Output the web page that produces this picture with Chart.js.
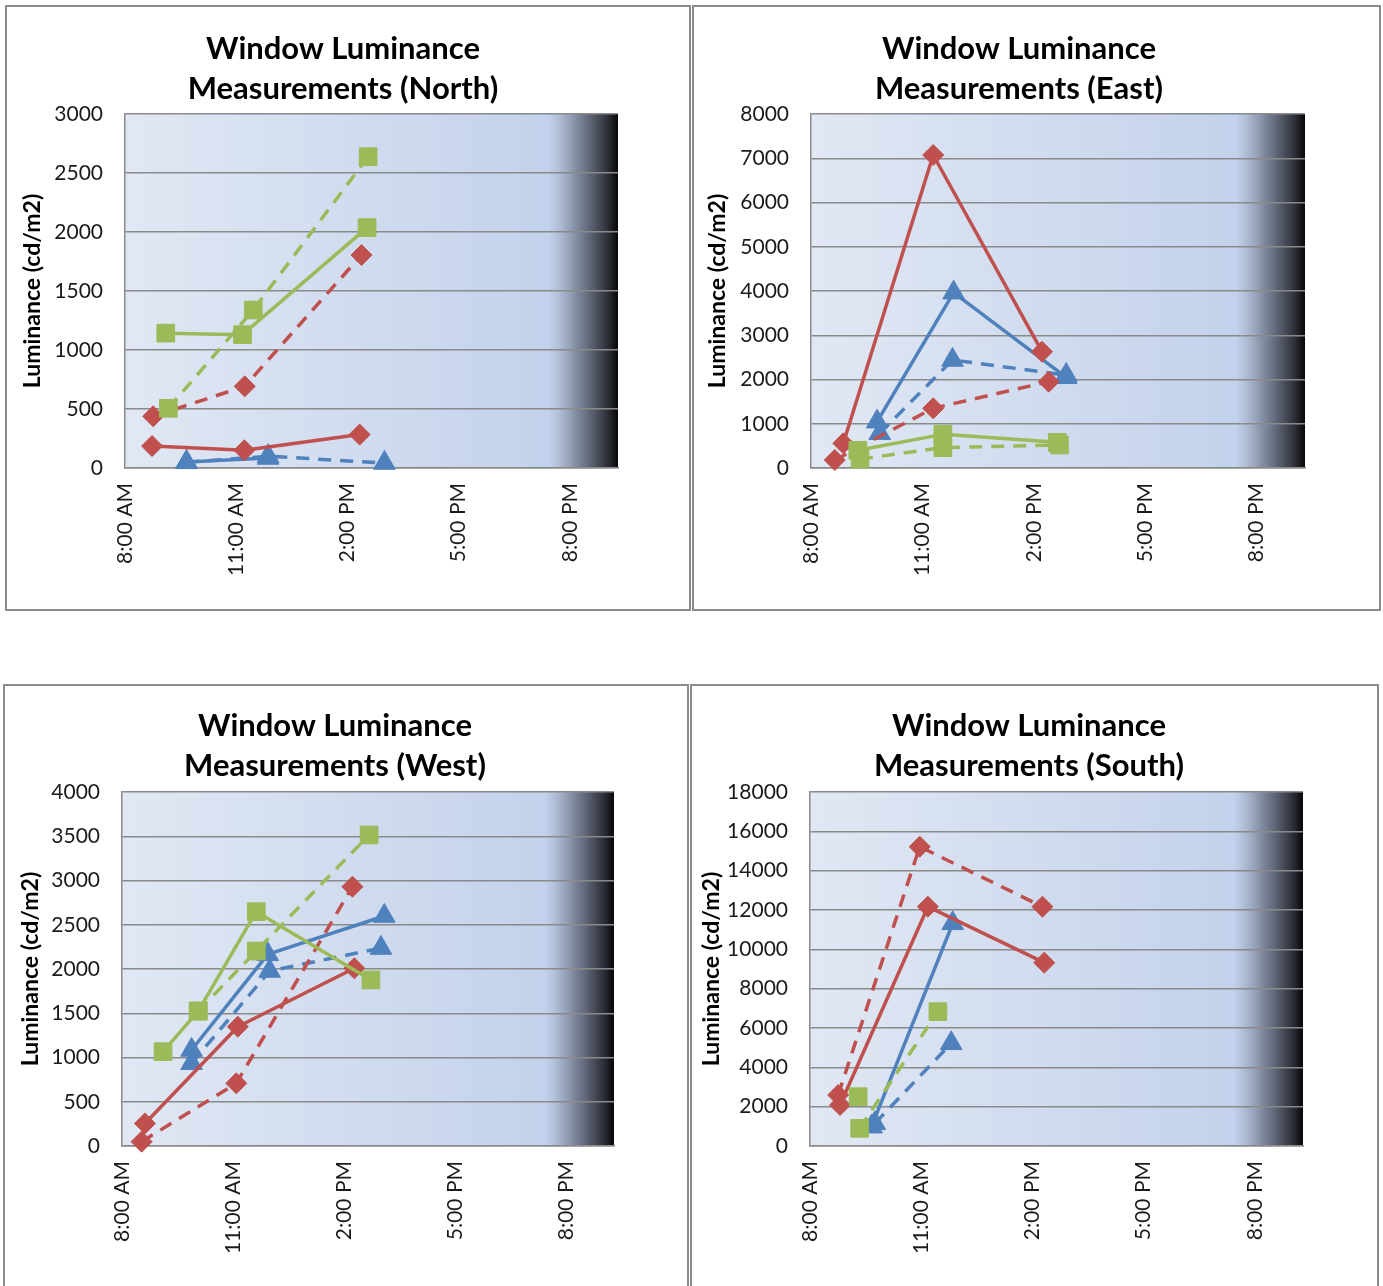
<!DOCTYPE html>
<html>
<head>
<meta charset="utf-8">
<title>Window Luminance Measurements</title>
<script src="https://cdn.jsdelivr.net/npm/chart.js@4.4.1/dist/chart.umd.min.js"></script>
<style>
  html, body { margin: 0; padding: 0; background: #ffffff; overflow: hidden; }
  .panel { position: absolute; box-sizing: border-box; border: 2px solid #8c8c8c; background: #ffffff; }
  .panel canvas { position: absolute; left: 0; top: 0; }
</style>
</head>
<body>
<div class="panel" id="panelNorth"><canvas id="chartNorth"></canvas></div>
<div class="panel" id="panelEast"><canvas id="chartEast"></canvas></div>
<div class="panel" id="panelWest"><canvas id="chartWest"></canvas></div>
<div class="panel" id="panelSouth"><canvas id="chartSouth"></canvas></div>
<script>
// ---- Time axis (hours of the day) ----
const tickHours  = [8, 11, 14, 17, 20];
const tickLabels = ['8:00 AM', '11:00 AM', '2:00 PM', '5:00 PM', '8:00 PM'];
const axisStartHour = 8;
const axisEndHour = 21.3;

// ---- North façade (cd/m2) ----
const northRedSolidTimes    = [8.73, 11.22, 14.33];
const northRedSolidValues   = [186, 150, 283];
const northRedDashTimes     = [8.76, 11.23, 14.38];
const northRedDashValues    = [438, 692, 1805];
const northGreenSolidTimes  = [9.10, 11.17, 14.53];
const northGreenSolidValues = [1143, 1130, 2037];
const northGreenDashTimes   = [9.17, 11.46, 14.56];
const northGreenDashValues  = [506, 1339, 2638];
const northBlueSolidTimes   = [9.66, 11.86];
const northBlueSolidValues  = [50, 85];
const northBlueDashTimes    = [9.66, 11.86, 15.00];
const northBlueDashValues   = [48, 100, 42];

// ---- East façade (cd/m2) ----
const eastRedSolidTimes    = [8.87, 11.29, 14.22];
const eastRedSolidValues   = [558, 7073, 2629];
const eastRedDashTimes     = [8.64, 11.29, 14.40];
const eastRedDashValues    = [181, 1349, 1951];
const eastGreenSolidTimes  = [9.26, 11.55, 14.63];
const eastGreenSolidValues = [400, 760, 580];
const eastGreenDashTimes   = [9.32, 11.55, 14.69];
const eastGreenDashValues  = [200, 460, 520];
const eastBlueSolidTimes   = [9.78, 11.84, 14.87];
const eastBlueSolidValues  = [1047, 3962, 2050];
const eastBlueDashTimes    = [9.85, 11.81, 14.87];
const eastBlueDashValues   = [784, 2441, 2100];

// ---- West façade (cd/m2) ----
const westRedSolidTimes    = [8.62, 11.13, 14.28];
const westRedSolidValues   = [255, 1348, 2008];
const westRedDashTimes     = [8.53, 11.09, 14.23];
const westRedDashValues    = [49, 708, 2930];
const westGreenSolidTimes  = [9.11, 10.06, 11.63, 14.73];
const westGreenSolidValues = [1066, 1525, 2648, 1876];
const westGreenDashTimes   = [10.06, 11.63, 14.68];
const westGreenDashValues  = [1525, 2203, 3514];
const westBlueSolidTimes   = [9.88, 11.94, 15.09];
const westBlueSolidValues  = [1085, 2166, 2599];
const westBlueDashTimes    = [9.88, 11.99, 15.00];
const westBlueDashValues   = [935, 1977, 2237];

// ---- South façade (cd/m2) ----
const southRedSolidTimes    = [8.81, 11.18, 14.32];
const southRedSolidValues   = [2085, 12169, 9322];
const southRedDashTimes     = [8.76, 10.96, 14.27];
const southRedDashValues    = [2593, 15220, 12169];
const southGreenSolidTimes  = [9.30];
const southGreenSolidValues = [2508];
const southGreenDashTimes   = [9.34, 11.45];
const southGreenDashValues  = [898, 6831];
const southBlueSolidTimes   = [9.66, 11.85];
const southBlueSolidValues  = [983, 11322];
const southBlueDashTimes    = [9.75, 11.81];
const southBlueDashValues   = [1152, 5222];

// ---- Styling ----
const FONT = "Lato, 'Open Sans', 'DejaVu Sans', sans-serif";
const markStyles = {
  red:   { color: '#C0504D', pointStyle: 'rectRot',  radius: 10.5 },
  green: { color: '#9BBB59', pointStyle: 'rect',     radius: 12.5 },
  blue:  { color: '#4F81BD', pointStyle: 'triangle', radius: 12.5 }
};
const LINE_W = 3.5;
const DASH = [13, 9];
const GRID_COLOR = '#8a8a8a';

// Plot background: pale blue wash that darkens to black at the late-evening end
const plotShade = {
  id: 'plotShade',
  beforeDraw(chart) {
    const { ctx, chartArea: a } = chart;
    const g = ctx.createLinearGradient(a.left, 0, a.right, 0);
    g.addColorStop(0.00, '#e1e8f4');
    g.addColorStop(0.45, '#d1dcef');
    g.addColorStop(0.86, '#c3d2ec');
    g.addColorStop(0.88, '#b0bed7');
    g.addColorStop(0.90, '#98a4ba');
    g.addColorStop(0.92, '#7c869b');
    g.addColorStop(0.94, '#636a7b');
    g.addColorStop(0.96, '#474c59');
    g.addColorStop(0.98, '#2b2e36');
    g.addColorStop(1.00, '#060608');
    ctx.save();
    ctx.fillStyle = g;
    ctx.fillRect(a.left, a.top, a.right - a.left, a.bottom - a.top);
    ctx.restore();
  }
};

function series(times, values, colour, dashed) {
  const s = markStyles[colour];
  return {
    data: times.map((t, i) => ({ x: t, y: values[i] })),
    showLine: true,
    borderColor: s.color,
    backgroundColor: s.color,
    borderWidth: LINE_W,
    borderDash: dashed ? DASH : [],
    borderCapStyle: 'butt',
    borderJoinStyle: 'round',
    pointStyle: s.pointStyle,
    pointRadius: s.radius,
    pointBackgroundColor: s.color,
    pointBorderColor: s.color,
    pointBorderWidth: 1,
    tension: 0,
    clip: false
  };
}

// Panel frames (page px) and the plot rectangle inside each
const layouts = {
  North: { box: [5, 5, 686, 606],     plot: [125, 114, 618, 468],   titleCenter: 343,  titleLine1: 49,  yTitleX: 33 },
  East:  { box: [692, 5, 689, 606],   plot: [811, 114, 1305, 468],  titleCenter: 1019, titleLine1: 49,  yTitleX: 718 },
  West:  { box: [3, 684, 686, 606],   plot: [122, 792, 614, 1146],  titleCenter: 335,  titleLine1: 726, yTitleX: 31 },
  South: { box: [690, 684, 689, 606], plot: [810, 792, 1303, 1146], titleCenter: 1029, titleLine1: 726, yTitleX: 712 }
};

const TITLE_SIZE = 31, TITLE_LINE = 40;
const TICK_SIZE = 21;
const YTITLE_SIZE = 23, YTITLE_LH = 1.2;

function build(name, yMax, yStep, datasets) {
  const L = layouts[name];
  const panel = document.getElementById('panel' + name);
  const [bx, by, bw, bh] = L.box;
  panel.style.left = bx + 'px'; panel.style.top = by + 'px';
  panel.style.width = bw + 'px'; panel.style.height = bh + 'px';
  const cx = bx + 2, cy = by + 2, W = bw - 4, H = bh - 4;
  const canvas = document.getElementById('chart' + name);
  canvas.width = W; canvas.height = H;
  canvas.style.width = W + 'px'; canvas.style.height = H + 'px';

  const plotL = L.plot[0] - cx, plotT = L.plot[1] - cy;
  const plotR = L.plot[2] - cx, plotB = L.plot[3] - cy;
  const tc = L.titleCenter - cx;
  let padL = 0, padR = W - 2 * tc;
  if (padR < 0) { padL = -padR; padR = 0; }
  const yAxisW = plotL - padL;
  const rightW = W - padR - plotR;
  const titleTop = L.titleLine1 - cy - TITLE_LINE / 2;
  const titleBottom = plotT - titleTop - 2 * TITLE_LINE;
  const xAxisH = H - plotB;
  const yTitlePad = L.yTitleX - cx - padL - (YTITLE_SIZE * YTITLE_LH) / 2;

  return new Chart(canvas, {
    type: 'scatter',
    data: { datasets },
    plugins: [plotShade],
    options: {
      responsive: false,
      animation: false,
      events: [],
      layout: { padding: { left: padL, right: padR, top: 0, bottom: 0 } },
      plugins: {
        legend: { display: false },
        tooltip: { enabled: false },
        title: {
          display: true,
          text: ['Window Luminance', 'Measurements (' + name + ')'],
          color: '#000000',
          font: { family: FONT, size: TITLE_SIZE, weight: 'bold', lineHeight: TITLE_LINE / TITLE_SIZE },
          padding: { top: titleTop, bottom: titleBottom }
        }
      },
      scales: {
        x: {
          type: 'linear',
          position: 'bottom',
          min: axisStartHour,
          max: axisEndHour,
          afterBuildTicks: s => { s.ticks = tickHours.map(v => ({ value: v })); },
          afterFit: s => { s.height = xAxisH; },
          grid: { display: false, drawTicks: false },
          border: { display: true, color: GRID_COLOR, width: 1.5 },
          ticks: {
            autoSkip: false,
            minRotation: 90,
            maxRotation: 90,
            padding: 15,
            color: '#1a1a1a',
            font: { family: FONT, size: TICK_SIZE },
            callback: v => tickLabels[tickHours.indexOf(v)]
          }
        },
        y: {
          type: 'linear',
          position: 'left',
          min: 0,
          max: yMax,
          afterFit: s => { s.width = yAxisW; },
          grid: { color: GRID_COLOR, lineWidth: 1.5, drawTicks: false },
          border: { display: true, color: GRID_COLOR, width: 1.5 },
          ticks: {
            stepSize: yStep,
            padding: 22,
            color: '#1a1a1a',
            font: { family: FONT, size: TICK_SIZE },
            callback: v => String(v)
          },
          title: {
            display: true,
            text: 'Luminance (cd/m2)',
            color: '#000000',
            font: { family: FONT, size: YTITLE_SIZE, weight: 'bold', lineHeight: YTITLE_LH },
            padding: { top: yTitlePad, bottom: 0 }
          }
        },
        yPad: {
          type: 'linear',
          position: 'right',
          display: true,
          afterFit: s => { s.width = rightW; },
          grid: { display: false, drawTicks: false },
          border: { display: false },
          ticks: { display: false }
        }
      }
    }
  });
}

const facadeSets = {
  north: [
    series(northGreenSolidTimes, northGreenSolidValues, 'green', false),
    series(northGreenDashTimes,  northGreenDashValues,  'green', true),
    series(northRedSolidTimes,   northRedSolidValues,   'red',   false),
    series(northRedDashTimes,    northRedDashValues,    'red',   true),
    series(northBlueSolidTimes,  northBlueSolidValues,  'blue',  false),
    series(northBlueDashTimes,   northBlueDashValues,   'blue',  true)
  ],
  east: [
    series(eastGreenSolidTimes, eastGreenSolidValues, 'green', false),
    series(eastGreenDashTimes,  eastGreenDashValues,  'green', true),
    series(eastRedSolidTimes,   eastRedSolidValues,   'red',   false),
    series(eastRedDashTimes,    eastRedDashValues,    'red',   true),
    series(eastBlueSolidTimes,  eastBlueSolidValues,  'blue',  false),
    series(eastBlueDashTimes,   eastBlueDashValues,   'blue',  true)
  ],
  west: [
    series(westGreenSolidTimes, westGreenSolidValues, 'green', false),
    series(westGreenDashTimes,  westGreenDashValues,  'green', true),
    series(westRedSolidTimes,   westRedSolidValues,   'red',   false),
    series(westRedDashTimes,    westRedDashValues,    'red',   true),
    series(westBlueSolidTimes,  westBlueSolidValues,  'blue',  false),
    series(westBlueDashTimes,   westBlueDashValues,   'blue',  true)
  ],
  south: [
    series(southGreenSolidTimes, southGreenSolidValues, 'green', false),
    series(southGreenDashTimes,  southGreenDashValues,  'green', true),
    series(southRedSolidTimes,   southRedSolidValues,   'red',   false),
    series(southRedDashTimes,    southRedDashValues,    'red',   true),
    series(southBlueSolidTimes,  southBlueSolidValues,  'blue',  false),
    series(southBlueDashTimes,   southBlueDashValues,   'blue',  true)
  ]
};

function drawAll() {
  build('North', 3000, 500, facadeSets.north);
  build('East', 8000, 1000, facadeSets.east);
  build('West', 4000, 500, facadeSets.west);
  build('South', 18000, 2000, facadeSets.south);
}

if (document.fonts && document.fonts.load) {
  Promise.all([
    document.fonts.load("bold 31px Lato"),
    document.fonts.load("21px Lato")
  ]).then(drawAll, drawAll);
} else {
  drawAll();
}
</script>
</body>
</html>
